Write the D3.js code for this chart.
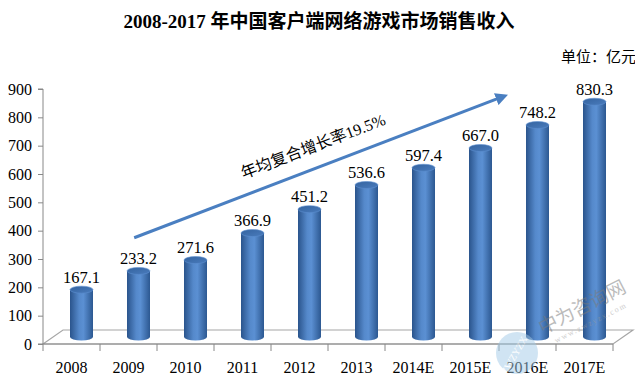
<!DOCTYPE html>
<html>
<head>
<meta charset="utf-8">
<script src="https://cdn.jsdelivr.net/npm/d3@7/dist/d3.min.js"></script>
<style>
  html, body { margin: 0; padding: 0; background: #fff; }
  svg { display: block; }
  text { font-family: "Liberation Serif", "Noto Sans CJK SC", serif; fill: #000; }
</style>
</head>
<body>
<div id="chart"></div>
<script>
// 数据
var years = ["2008", "2009", "2010", "2011", "2012", "2013", "2014E", "2015E", "2016E", "2017E"];
var revenue = [167.1, 233.2, 271.6, 366.9, 451.2, 536.6, 597.4, 667.0, 748.2, 830.3];
var yTicks = [0, 100, 200, 300, 400, 500, 600, 700, 800, 900];
// 增长箭头（数据坐标：类别序号, 数值）
var growthFrom = [1.1, 375];
var growthTo = [7.66, 880];
var growthText = "年均复合增长率19.5%";

var width = 635, height = 376;
var plotLeft = 43, plotRight = 613, plotTop = 89, plotBottom = 344;
var depthX = 20, depthY = -14;   // 3D 地板深度

var svg = d3.select("#chart").append("svg")
    .attr("width", width)
    .attr("height", height);

var x = d3.scaleBand()
    .domain(years)
    .range([plotLeft, plotRight])
    .padding(0);

var xi = d3.scaleLinear()
    .domain([0, years.length])
    .range([plotLeft, plotRight]);

var y = d3.scaleLinear()
    .domain([0, 900])
    .range([plotBottom, plotTop]);

// 渐变
var defs = svg.append("defs");
var grad = defs.append("linearGradient")
    .attr("id", "cyl")
    .attr("x1", "0%").attr("x2", "100%").attr("y1", "0%").attr("y2", "0%");
grad.append("stop").attr("offset", "0%").attr("stop-color", "#2a548c");
grad.append("stop").attr("offset", "40%").attr("stop-color", "#5589cb");
grad.append("stop").attr("offset", "58%").attr("stop-color", "#5b90d3");
grad.append("stop").attr("offset", "100%").attr("stop-color", "#2c5891");

var topGrad = defs.append("linearGradient")
    .attr("id", "cylTop")
    .attr("x1", "0%").attr("x2", "100%").attr("y1", "0%").attr("y2", "100%");
topGrad.append("stop").attr("offset", "0%").attr("stop-color", "#34639f");
topGrad.append("stop").attr("offset", "100%").attr("stop-color", "#4a7cbd");

defs.append("marker")
    .attr("id", "arrowHead")
    .attr("viewBox", "0 0 10 10")
    .attr("refX", 5).attr("refY", 5)
    .attr("markerWidth", 4.2).attr("markerHeight", 4.2)
    .attr("orient", "auto")
    .append("path")
    .attr("d", "M0,0 L10,5 L0,10 Z")
    .attr("fill", "#4a7fc1");

// 标题
svg.append("text")
    .attr("x", 319)
    .attr("y", 28)
    .attr("text-anchor", "middle")
    .attr("font-size", 19)
    .attr("font-weight", "bold")
    .text("2008-2017 年中国客户端网络游戏市场销售收入");

svg.append("text")
    .attr("x", 636)
    .attr("y", 62)
    .attr("text-anchor", "end")
    .attr("font-size", 15)
    .text("单位：亿元");

// 地板
var floorColor = "#a6a6a6";
svg.append("path")
    .attr("d", "M" + plotLeft + "," + plotBottom +
        " L" + (plotLeft + depthX) + "," + (plotBottom + depthY) +
        " L" + (plotRight + depthX) + "," + (plotBottom + depthY) +
        " L" + plotRight + "," + plotBottom + " Z")
    .attr("fill", "#fff")
    .attr("stroke", floorColor)
    .attr("stroke-width", 1.2);

// 坐标轴
var yAxis = svg.append("g")
    .attr("transform", "translate(" + plotLeft + ",0)")
    .call(d3.axisLeft(y).tickValues(yTicks).tickSize(5).tickPadding(6).tickFormat(d3.format("d")));
yAxis.select(".domain").attr("stroke", "#888").attr("d", "M-5," + plotTop + "H0V" + plotBottom + "H-5");
yAxis.selectAll(".tick line").attr("stroke", "#888");
yAxis.selectAll(".tick text")
    .attr("font-size", 16)
    .attr("font-family", "Liberation Serif, serif");

var xAxis = svg.append("g")
    .attr("transform", "translate(0," + plotBottom + ")");
xAxis.append("line")
    .attr("x1", plotLeft).attr("x2", plotRight)
    .attr("stroke", "#888");
xAxis.selectAll("line.tk")
    .data(d3.range(years.length + 1))
    .join("line")
    .attr("class", "tk")
    .attr("x1", function (d) { return xi(d); })
    .attr("x2", function (d) { return xi(d); })
    .attr("y1", 0).attr("y2", 7)
    .attr("stroke", "#888");
xAxis.selectAll("text")
    .data(years)
    .join("text")
    .attr("x", function (d) { return x(d) + x.bandwidth() / 2; })
    .attr("y", 29)
    .attr("text-anchor", "middle")
    .attr("font-size", 16)
    .text(function (d) { return d; });

// 圆柱
var r = 11.5, ry = 3.5;
var bars = svg.append("g").selectAll("g")
    .data(years.map(function (d, i) { return {year: d, value: revenue[i]}; }))
    .join("g")
    .attr("transform", function (d) {
        return "translate(" + (x(d.year) + x.bandwidth() / 2 + depthX / 2) + "," + (depthY / 2) + ")";
    });

bars.append("path")
    .attr("d", function (d) {
        var yt = y(d.value), yb = y(0);
        return "M" + (-r) + "," + yt +
            " L" + (-r) + "," + yb +
            " A" + r + "," + ry + " 0 0 0 " + r + "," + yb +
            " L" + r + "," + yt + " Z";
    })
    .attr("fill", "url(#cyl)");

bars.append("ellipse")
    .attr("cx", 0)
    .attr("cy", function (d) { return y(d.value); })
    .attr("rx", r)
    .attr("ry", ry)
    .attr("fill", "url(#cylTop)")
    .attr("stroke", "#5d8fd0")
    .attr("stroke-width", 0.6);

bars.append("text")
    .attr("x", 0)
    .attr("y", function (d) { return y(d.value) - 7; })
    .attr("text-anchor", "middle")
    .attr("font-size", 16.5)
    .text(function (d) { return d.value.toFixed(1); });

// 增长箭头
var ax1 = xi(growthFrom[0] + 0.5), ay1 = y(growthFrom[1]);
var ax2 = xi(growthTo[0] + 0.5), ay2 = y(growthTo[1]);
svg.append("line")
    .attr("x1", ax1).attr("y1", ay1)
    .attr("x2", ax2 - 6).attr("y2", ay2 + 2.3)
    .attr("stroke", "#4a7fc1")
    .attr("stroke-width", 3)
    .attr("marker-end", "url(#arrowHead)");

var angle = Math.atan2(ay2 - ay1, ax2 - ax1) * 180 / Math.PI;
svg.append("text")
    .attr("transform", "translate(" + 315 + "," + 151.5 + ") rotate(" + angle + ")")
    .attr("text-anchor", "middle")
    .attr("font-size", 16)
    .text(growthText);

// 水印
var wm = svg.append("g").attr("opacity", 0.5);
wm.append("circle")
    .attr("cx", 517).attr("cy", 353).attr("r", 21)
    .attr("fill", "#a3cbe8");
wm.append("text")
    .attr("transform", "translate(517,357) rotate(-60)")
    .attr("text-anchor", "middle")
    .attr("font-size", 10)
    .style("fill", "#fff")
    .text("ZWZYZX");
wm.append("text")
    .attr("transform", "translate(585,313) rotate(-27)")
    .attr("text-anchor", "middle")
    .attr("font-size", 19)
    .style("fill", "#7a7a7a")
    .attr("font-family", "Noto Sans CJK SC")
    .text("中为咨询网");
wm.append("text")
    .attr("transform", "translate(592,325) rotate(-27)")
    .attr("text-anchor", "middle")
    .attr("font-size", 8)
    .attr("letter-spacing", 1.5)
    .style("fill", "#9a9a9a")
    .text("www.zwzyzx.com");
</script>
</body>
</html>
